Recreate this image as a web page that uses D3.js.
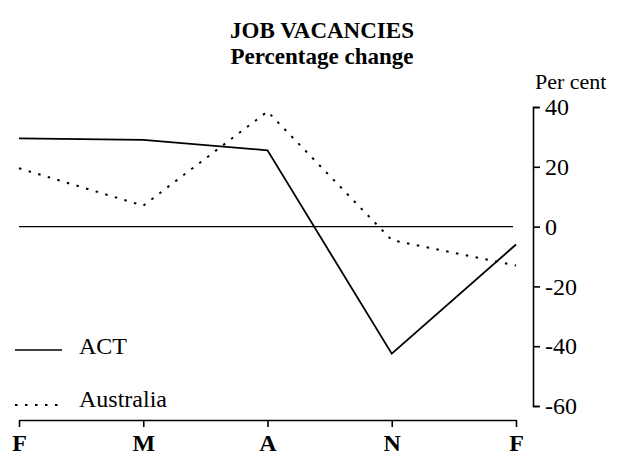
<!DOCTYPE html>
<html>
<head>
<meta charset="utf-8">
<script src="https://cdn.jsdelivr.net/npm/d3@7"></script>
<style>
  body { margin: 0; background: #fff; }
  svg { display: block; }
  svg text { font-family: "Liberation Serif", "DejaVu Serif", serif; fill: #000; }
</style>
</head>
<body>
<div id="chart-container"></div>
<script>
const months = ["F", "M", "A", "N", "F"]
const act = [29.5, 29, 25.5, -42.5, -6]
const australia = [19.5, 7, 38.5, -4.5, -13]
const yTicks = [40, 20, 0, -20, -40, -60]

const w = 632, h = 459

const svg = d3.select('#chart-container')
  .append('svg')
  .attr('width', w)
  .attr('height', h)

// title
svg.append('text')
  .attr('x', 322).attr('y', 38)
  .attr('text-anchor', 'middle')
  .style('font-weight', 'bold')
  .style('font-size', '23px')
  .text('JOB VACANCIES')
svg.append('text')
  .attr('x', 322).attr('y', 64)
  .attr('text-anchor', 'middle')
  .style('font-weight', 'bold')
  .style('font-size', '23px')
  .text('Percentage change')

const xScale = d3.scalePoint()
  .domain(d3.range(months.length))
  .range([19, 516])

const yScale = d3.scaleLinear()
  .domain([-60, 40])
  .range([406, 107])

// zero line
svg.append('line')
  .attr('x1', xScale(0)).attr('x2', xScale(4) - 3)
  .attr('y1', yScale(0)).attr('y2', yScale(0))
  .attr('stroke', '#000')
  .attr('stroke-width', 1.4)

// x axis
const xAxis = d3.axisBottom(xScale)
  .tickSize(7)
  .tickSizeOuter(0)
  .tickPadding(7)
  .tickFormat(i => months[i])
const gx = svg.append('g')
  .attr('id', 'x-axis')
  .attr('transform', 'translate(0, 420)')
  .call(xAxis)
gx.selectAll('path, line').attr('stroke', '#000').attr('stroke-width', 1.6)
gx.selectAll('text')
  .style('font-size', '24px')
  .style('font-weight', 'bold')

// y axis on the right
const yAxis = d3.axisRight(yScale)
  .tickValues(yTicks)
  .tickSize(7)
  .tickSizeOuter(6)
  .tickPadding(5)
  .tickFormat(d => String(d))
const gy = svg.append('g')
  .attr('id', 'y-axis')
  .attr('transform', 'translate(533, 0)')
  .call(yAxis)
gy.selectAll('path, line').attr('stroke', '#000').attr('stroke-width', 1.6)
gy.selectAll('text')
  .style('font-size', '24px')

svg.append('text')
  .attr('x', 535).attr('y', 89)
  .style('font-size', '22px')
  .text('Per cent')

const line = d3.line()
  .x((d, i) => xScale(i))
  .y(d => yScale(d))

svg.append('path')
  .datum(act)
  .attr('d', line)
  .attr('fill', 'none')
  .attr('stroke', '#000')
  .attr('stroke-width', 1.8)

svg.append('path')
  .datum(australia)
  .attr('d', line)
  .attr('fill', 'none')
  .attr('stroke', '#000')
  .attr('stroke-width', 2)
  .attr('stroke-dasharray', '2.5,7.5')

// legend
const legend = [
  { name: 'ACT', y: 350, dash: null },
  { name: 'Australia', y: 405, dash: '2.5,7.5' }
]
legend.forEach(l => {
  svg.append('line')
    .attr('x1', 15).attr('x2', 62)
    .attr('y1', l.y).attr('y2', l.y)
    .attr('stroke', '#000')
    .attr('stroke-width', l.dash ? 2 : 1.6)
    .attr('stroke-dasharray', l.dash)
  svg.append('text')
    .attr('x', 79).attr('y', l.y + (l.dash ? 2 : 4))
    .style('font-size', '24px')
    .text(l.name)
})
</script>
</body>
</html>
